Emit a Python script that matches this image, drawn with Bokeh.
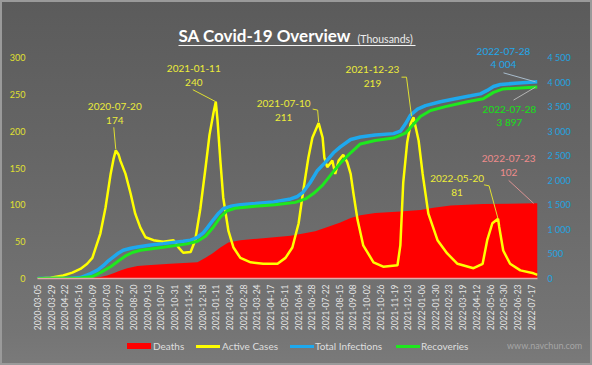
import math
import pandas as pd
from bokeh.plotting import figure
from bokeh.layouts import column
from bokeh.models import (Range1d, LinearAxis, FixedTicker, DatetimeTickFormatter,
                          Label, Arrow, Div)
from bokeh.embed import file_html
from bokeh.resources import INLINE

# ---------------- data (thousands) ----------------
start_date = "2020-03-05"
end_date = "2022-07-28"

x_tick_labels = [
    "2020-03-05", "2020-03-29", "2020-04-22", "2020-05-16", "2020-06-09", "2020-07-03",
    "2020-07-27", "2020-08-20", "2020-09-13", "2020-10-07", "2020-10-31", "2020-11-24",
    "2020-12-18", "2021-01-11", "2021-02-04", "2021-02-28", "2021-03-24", "2021-04-17",
    "2021-05-11", "2021-06-04", "2021-06-28", "2021-07-22", "2021-08-15", "2021-09-08",
    "2021-10-02", "2021-10-26", "2021-11-19", "2021-12-13", "2022-01-06", "2022-01-30",
    "2022-02-23", "2022-03-19", "2022-04-12", "2022-05-06", "2022-05-30", "2022-06-23",
    "2022-07-17",
]
left_ticks = [0, 50, 100, 150, 200, 250, 300]
right_ticks = [0, 500, 1000, 1500, 2000, 2500, 3000, 3500, 4000, 4500]
series_names = ["Deaths", "Active Cases", "Total Infections", "Recoveries"]

# days since start_date
active_days = [0, 23, 45, 61, 75, 87, 96, 110, 119, 128, 133, 137, 142, 145, 154, 163, 171, 180, 189, 203,
               220, 238, 247, 255, 268, 276, 285, 294, 301, 308, 312, 315, 320, 325, 334, 343, 355, 373, 395, 420,
               434, 446, 457, 465, 474, 481, 492, 499, 502, 507, 516, 521, 527, 535, 542, 548, 553, 560, 570, 588,
               605, 630, 635, 640, 647, 653, 658, 667, 674, 684, 700, 717, 735, 763, 779, 787, 796, 806, 808, 815,
               827, 845, 868, 875]
active_cases = [0, 1, 4, 8, 13, 20, 28, 61, 96, 142, 162, 174, 168, 160, 142, 115, 88, 69, 56, 52,
                50, 52, 42, 35, 36, 52, 95, 150, 195, 225, 240, 215, 160, 110, 65, 42, 28, 22, 20, 20,
                28, 42, 75, 119, 164, 191, 211, 191, 164, 151, 160, 142, 160, 168, 158, 142, 115, 80, 45, 22,
                16, 18, 45, 130, 185, 210, 219, 187, 142, 88, 52, 34, 20, 14, 20, 52, 75, 81, 70, 38,
                20, 11, 7, 5]

total_days = [0, 58, 75, 93, 105, 115, 124, 133, 142, 150, 163, 175, 198, 220, 255, 268, 280, 290, 297, 308,
              317, 325, 338, 355, 381, 413, 443, 455, 465, 477, 490, 504, 518, 530, 548, 565, 591, 623, 635, 644,
              653, 665, 679, 705, 731, 758, 775, 787, 798, 810, 836, 875]
total_infections = [0, 5, 20, 101, 170, 260, 360, 440, 520, 575, 615, 640, 680, 710, 760, 780, 840, 930, 1030, 1200,
                    1330, 1420, 1470, 1500, 1525, 1560, 1620, 1670, 1760, 1950, 2200, 2370, 2560, 2680, 2830, 2880,
                    2920, 2950, 3000, 3150, 3330, 3450, 3520, 3600, 3660, 3720, 3760, 3830, 3910, 3950, 3975, 4004]

recov_days = [0, 75, 96, 110, 128, 142, 154, 166, 180, 220, 262, 280, 294, 308, 320, 332, 346, 381, 416, 451,
              469, 483, 499, 516, 530, 548, 565, 591, 623, 644, 658, 670, 688, 714, 752, 780, 798, 815, 875]
recoveries = [0, 8, 40, 120, 240, 360, 460, 530, 575, 635, 705, 760, 860, 1050, 1250, 1380, 1430, 1470, 1500, 1550,
              1620, 1730, 1900, 2150, 2350, 2560, 2740, 2810, 2860, 2960, 3140, 3300, 3420, 3500, 3600, 3660,
              3790, 3860, 3897]

death_days = [0, 75, 96, 110, 122, 133, 145, 157, 175, 192, 232, 280, 294, 306, 320, 334, 355, 385, 443, 465,
              486, 500, 530, 548, 565, 591, 635, 670, 693, 723, 780, 870, 875]
deaths = [0, 0.2, 1, 2, 4, 7, 11, 14, 17, 18, 20, 22, 28, 34, 42, 49, 52, 54, 58, 61,
          64, 68, 76, 82, 86, 89, 91, 93, 96, 99, 101, 102, 102]

active_peak_dates = ["2020-07-20", "2021-01-11", "2021-07-10", "2021-12-23", "2022-05-20"]
death_label_date = "2022-07-23"

# ---------------- helpers ----------------
t0 = pd.Timestamp(start_date)
t1 = pd.Timestamp(end_date)


def to_dates(days):
    return t0 + pd.to_timedelta(days, unit="D")


active_dates = to_dates(active_days)
total_dates = to_dates(total_days)
recov_dates = to_dates(recov_days)
death_dates = to_dates(death_days)

FRAME_W, FRAME_H = 500, 278
L_TOP = 300 * FRAME_H / 221.0
R_TOP = L_TOP * 15

FONT = "Lato"
YELLOW = "#ffff00"
BLUE = "#1ea9ee"
GREEN = "#1ee81e"
RED = "#ff0000"
STYLE = {
    "Deaths": dict(kind="area", color=RED),
    "Active Cases": dict(kind="line", color=YELLOW, width=3),
    "Total Infections": dict(kind="line", color=BLUE, width=3),
    "Recoveries": dict(kind="line", color=GREEN, width=3),
}
EDGE = "#9a9a9a"

p = figure(frame_width=FRAME_W, frame_height=FRAME_H, x_axis_type="datetime", output_backend="svg",
           toolbar_location=None, title=None,
           x_range=Range1d(t0, t1), y_range=Range1d(0, L_TOP),
           min_border_left=37, min_border_right=55, min_border_top=0, min_border_bottom=57)
p.extra_y_ranges = {"right": Range1d(0, R_TOP)}

p.background_fill_color = None
p.border_fill_color = None
p.outline_line_color = None
p.styles = {"background": "linear-gradient(180deg, #5b5b5b 0%, #676767 50%, #757575 100%)",
            "box-shadow": f"inset 2px 2px 0 {EDGE}, inset -2px 0 0 {EDGE}"}
p.xgrid.visible = False
p.ygrid.visible = False

# ---------------- series ----------------
p.varea(x=death_dates, y1=0, y2=deaths, fill_color=RED)
p.line(active_dates, active_cases, line_color=YELLOW, line_width=2.5)
p.line(total_dates, total_infections, y_range_name="right", line_color=BLUE, line_width=3.5)
p.line(recov_dates, recoveries, y_range_name="right", line_color=GREEN, line_width=3)

# ---------------- axes ----------------
xa = p.xaxis[0]
xa.ticker = FixedTicker(ticks=[pd.Timestamp(d).value // 10**6 for d in x_tick_labels])
fmt = "%Y-%m-%d"
xa.formatter = DatetimeTickFormatter(days=fmt, months=fmt, years=fmt, hours=fmt, minutes=fmt)
xa.major_label_orientation = math.pi / 2
xa.major_label_text_color = "#e4e4e4"
xa.major_label_text_font = FONT
xa.major_label_text_font_size = "8.5px"
xa.major_label_standoff = 6
xa.major_tick_line_color = None
xa.major_tick_out = 0
xa.major_tick_in = 0
xa.minor_tick_line_color = None
xa.minor_tick_out = 0
xa.axis_line_color = "#e6a8a8"
xa.axis_line_width = 1.5

ya = p.yaxis[0]
ya.ticker = FixedTicker(ticks=left_ticks)
ya.major_label_text_color = "#e0e030"
ya.major_label_text_font = FONT
ya.major_label_text_font_size = "9px"
ya.major_label_standoff = 12
ya.axis_line_color = None
ya.major_tick_line_color = None
ya.major_tick_out = 0
ya.minor_tick_line_color = None
ya.minor_tick_out = 0

ra = LinearAxis(y_range_name="right", ticker=FixedTicker(ticks=right_ticks),
                major_label_overrides={v: f"{v:,}".replace(",", " ") for v in right_ticks})
ra.major_label_text_color = "#22a4e0"
ra.major_label_text_font = FONT
ra.major_label_text_font_size = "9px"
ra.major_label_standoff = 10
ra.axis_line_color = None
ra.major_tick_line_color = None
ra.major_tick_out = 0
ra.minor_tick_line_color = None
ra.minor_tick_out = 0
p.add_layout(ra, "right")

# ---------------- title (inside the tall frame) ----------------
p.add_layout(Label(x=141, y=243.5, x_units="screen", y_units="screen", text="SA Covid-19 Overview",
                   text_font=FONT, text_font_size="17px", text_font_style="bold",
                   text_color="#ffffff", text_baseline="middle"))
p.add_layout(Label(x=320, y=240, x_units="screen", y_units="screen", text="(Thousands)",
                   text_font=FONT, text_font_size="10.5px",
                   text_color="#ececec", text_baseline="middle"))
p.add_layout(Arrow(x_start=141, y_start=233, x_end=378, y_end=233,
                   start_units="screen", end_units="screen", start=None, end=None,
                   line_color="#f2f2f2", line_width=1))

# ---------------- annotations ----------------
ms_per_px = (t1 - t0).total_seconds() * 1000 / FRAME_W


def annotate(date_str, val, range_name, top, color, line_color, dx, dy_date, dy_val, leader):
    xm = pd.Timestamp(date_str).value / 1e6
    vtxt = f"{round(val):,}".replace(",", " ")
    kw = dict(text_font=FONT, text_font_size="10px", text_color=color,
              text_align="center", text_baseline="middle")
    if range_name:
        kw["y_range_name"] = range_name
    p.add_layout(Label(x=xm, y=val, x_offset=dx, y_offset=dy_date, text=date_str, **kw))
    p.add_layout(Label(x=xm, y=val, x_offset=dx, y_offset=dy_val, text=vtxt, **kw))
    upp = top / FRAME_H
    xs = [xm + ox * ms_per_px for ox, oy in leader]
    ys = [val + oy * upp for ox, oy in leader]
    lkw = dict(line_color=line_color, line_width=1)
    if range_name:
        lkw["y_range_name"] = range_name
    p.line(xs, ys, **lkw)


active_styles = [
    (-1, 44, 30, [(-2, 23), (0, 1)]),
    (-22, 33, 19, [(-23, 12), (0, 0)]),
    (-35, 20, 6, [(-6, 14), (-1, 13), (0, 1)]),
    (-41, 48, 34, [(-12, 40), (-7, 40), (-2, 1)]),
    (-41, 40, 26, [(-14, 34), (-9, 33), (0, 0)]),
]
for d, st in zip(active_peak_dates, active_styles):
    day = (pd.Timestamp(d) - t0).days
    v = active_cases[active_days.index(day)]
    annotate(d, v, None, L_TOP, "#ecec3a", "#e0e030", *st)

dday = (pd.Timestamp(death_label_date) - t0).days
annotate(death_label_date, deaths[death_days.index(dday)], None, L_TOP, "#ee8c8c", "#d89292",
         -26, 45, 31, [(-26, 23), (-1, 0)])
annotate(total_dates[-1].strftime("%Y-%m-%d"), total_infections[-1], "right", R_TOP, "#22a8ea", "#a8bccc",
         -34, 30, 18, [(-34, 9), (-2, 0)])
annotate(recov_dates[-1].strftime("%Y-%m-%d"), recoveries[-1], "right", R_TOP, "#16e016", "#b4b4b4",
         -28, -22, -35, [(-24, -13), (-2, 0)])

# ---------------- legend strip ----------------
LEG_H = 30
ROW_C = 11
legend_x = {"Deaths": (127, 153), "Active Cases": (196, 222),
            "Total Infections": (290, 315), "Recoveries": (396, 421)}
parts = []
for name in series_names:
    st = STYLE[name]
    gx, tx = legend_x[name]
    gh = 6 if st["kind"] == "area" else st["width"]
    gt = ROW_C - gh / 2
    parts.append(f'<span style="position:absolute;left:{gx}px;top:{gt}px;width:24px;height:{gh}px;'
                 f'background:{st["color"]};"></span>')
    parts.append(f'<span style="position:absolute;left:{tx}px;top:0;line-height:{2 * ROW_C}px;'
                 f'font-size:10px;color:#dedede;white-space:nowrap;">{name}</span>')
parts.append(f'<span style="position:absolute;left:507px;top:0;line-height:{2 * ROW_C}px;'
             f'font-size:9px;color:#a6a6a6;white-space:nowrap;">www.navchun.com</span>')
html = (f'<div style="position:relative;width:592px;height:{LEG_H}px;font-family:Lato,sans-serif;">'
        + "".join(parts) + "</div>")
leg = Div(text=html, width=592, height=LEG_H, margin=0,
          styles={"background": "linear-gradient(180deg, #757575 0%, #7a7a7a 100%)",
                  "box-shadow": f"inset 2px -2px 0 {EDGE}, inset -2px 0 0 {EDGE}"})

layout = column(p, leg, spacing=0)
open("out.html", "w").write(file_html(layout, INLINE))
